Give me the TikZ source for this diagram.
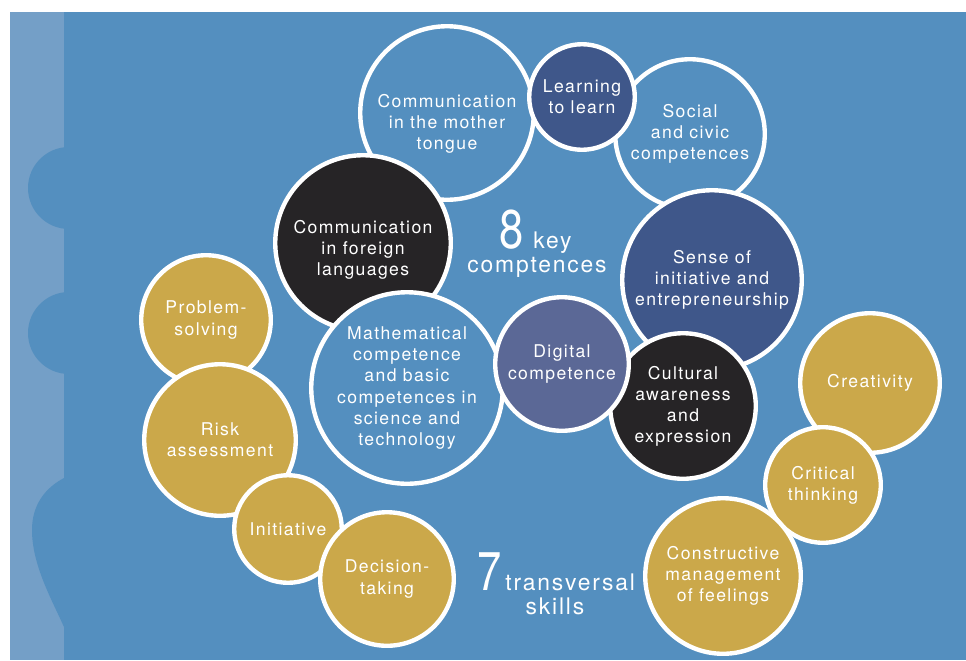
\documentclass[tikz,border=0pt]{standalone}
\usepackage{fontspec}
\setmainfont{TeX Gyre Heros}[LetterSpace=8]
\newfontfamily\numfont{TeX Gyre Heros}[FakeStretch=0.8]
\usetikzlibrary{positioning}

\definecolor{panelblue}{HTML}{548FBF}
\definecolor{stripeblue}{HTML}{749FC7}
\definecolor{deepblue}{HTML}{3F578A}
\definecolor{slateblue}{HTML}{5B6896}
\definecolor{nearblack}{HTML}{262426}
\definecolor{gold}{HTML}{CBA84A}

\tikzset{
  bubbletext/.style={text=white, align=center, inner sep=0pt, font=\fontsize{10}{12}\selectfont},
  bubble/.style={bubbletext, circle, draw=white, line width=2.5pt},
  rad/.style={minimum size=#1*0.04cm-2.5pt},
  caption/.style={text=white, inner sep=0pt, font=\fontsize{13}{15}\selectfont},
  numeral/.style={text=white, inner sep=0pt, anchor=base west, font=\numfont\fontsize{31}{31}\selectfont}
}

\begin{document}
\begin{tikzpicture}[x=0.02cm, y=-0.02cm]
    \useasboundingbox (0,0) rectangle (966,660);
    \fill[white] (0,0) rectangle (966,660);
    \fill[panelblue] (10,12) rectangle (966,660);
    \fill[stripeblue] (10,12) rectangle (64,660);
    \fill[panelblue] (69,188) circle (41);
    \fill[panelblue] (69,333) circle (41);
    \fill[panelblue] (64,478) .. controls (45,488) and (32,505) .. (32,530) .. controls (32,565) and (52,600) .. (64,627) -- cycle;

    \node[bubble, rad=89, fill=panelblue] (mother) at (447,113) {};
    \node[bubbletext] (motherText) at ([yshift=-6pt]mother.center) {Communication\\in the mother\\tongue};
    \node[bubble, rad=77, fill=panelblue] (social) at (690,134) {Social\\and civic\\competences};
    \node[bubble, rad=55, fill=deepblue] (learning) at (582,97) {Learning\\to learn};
    \node[bubble, rad=90, fill=nearblack] (foreign) at (363,243) {};
    \node[bubbletext] (foreignText) at ([yshift=-4pt]foreign.center) {Communication\\in foreign\\languages};
    \node[bubble, rad=98, fill=panelblue] (maths) at (407,388) {Mathematical\\competence\\and basic\\competences in\\science and\\technology};
    \node[bubble, rad=92, fill=deepblue] (sense) at (712,280) {Sense of\\initiative and\\entrepreneurship};
    \node[bubble, rad=75, fill=nearblack] (cultural) at (683,406) {Cultural\\awareness\\and\\expression};
    \node[bubble, rad=69, fill=slateblue] (digital) at (562,364) {Digital\\competence};

    \node[bubble, rad=67, fill=gold] (problem) at (206,320) {Problem-\\solving};
    \node[bubble, rad=78, fill=gold] (risk) at (220,440) {Risk\\assessment};
    \node[bubble, rad=56, fill=gold] (initiative) at (288,529) {Initiative};
    \node[bubble, rad=69, fill=gold] (decision) at (387,579) {Decision-\\taking};
    \node[bubble, rad=72, fill=gold] (creativity) at (870,383) {Creativity};
    \node[bubble, rad=60, fill=gold] (critical) at (823,485) {Critical\\thinking};
    \node[bubble, rad=80, fill=gold] (constructive) at (723,576) {Constructive\\management\\of feelings};

    \node[numeral] (eight) at (499,248) {8};
    \node[caption, anchor=base west] (key) at (533,248) {key};
    \node[caption, anchor=base] (comptences) at (537,272) {comptences};
    \node[numeral] (seven) at (477,590) {7};
    \node[caption, anchor=base west] (transversal) at (505,590) {transversal};
    \node[caption, anchor=base] (skills) at (555,614) {skills};
\end{tikzpicture}
\end{document}
